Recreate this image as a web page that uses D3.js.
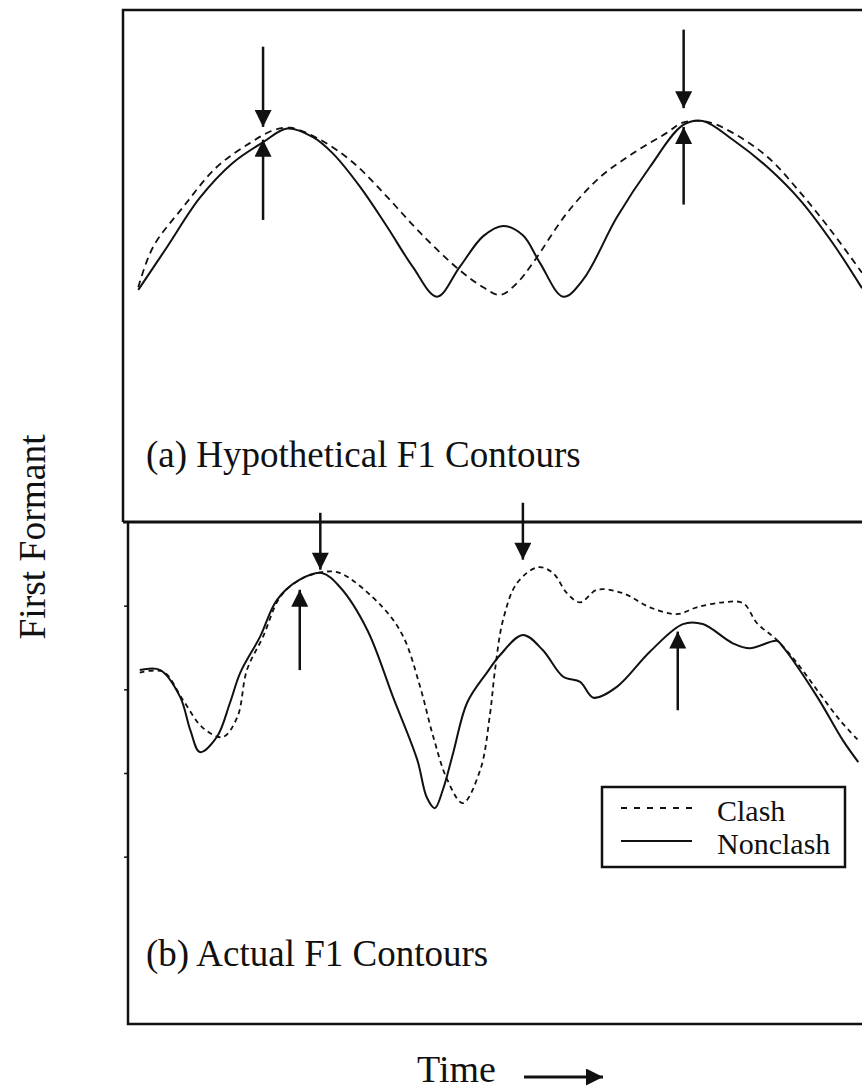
<!DOCTYPE html>
<html>
<head>
<meta charset="utf-8">
<script src="https://cdn.jsdelivr.net/npm/d3@7"></script>
<style>
  body { margin: 0; background: #fff; }
  text { font-family: "Liberation Serif", "Times New Roman", serif; fill: #111; }
</style>
</head>
<body>
<div id="chart"></div>
<script>
// time in arbitrary units (0-100), F1 in Hz

// (a) hypothetical contours
var hypoClashTime = [1.4, 3.4, 7.5, 12.1, 16.6, 19.8, 22.1, 26.2, 30.7, 35.3, 39.8, 45.2, 48.4, 50.7, 53.0, 55.2, 59.8, 64.3, 68.8, 73.4, 75.6, 78.9, 82.4, 87.1, 91.6, 96.0, 100];
var hypoClashF1   = [575, 622, 669, 716, 744, 759, 762, 748, 721, 681, 639, 595, 575, 566, 580, 604, 662, 704, 732, 756, 768, 769, 756, 728, 686, 639, 592];
var hypoNonTime = [1.4, 5.3, 9.8, 14.3, 18.4, 21.7, 25.2, 27.9, 31.6, 35.3, 38.8, 42.1, 45.2, 48.4, 51.1, 53.8, 56.1, 59.3, 62.0, 66.6, 71.1, 75.6, 78.3, 82.4, 87.1, 91.6, 96.0, 100];
var hypoNonF1   = [572, 622, 680, 721, 745, 761, 751, 732, 693, 646, 599, 564, 599, 635, 647, 636, 604, 564, 584, 657, 716, 765, 770, 748, 716, 677, 627, 574];

// (b) actual contours
var actClashTime = [1.6, 4.8, 7.5, 10.2, 12.9, 14.9, 16.2, 18.4, 20.7, 23.4, 26.4, 28.9, 34.7, 37.5, 39.8, 41.6, 43.5, 45.6, 48.0, 49.3, 50.0, 51.1, 53.0, 55.9, 57.9, 59.8, 61.6, 63.9, 67.4, 71.1, 74.8, 77.5, 81.1, 83.8, 85.7, 88.4, 91.1, 93.9, 97.0, 99.5];
var actClashF1   = [720, 721, 687, 654, 643, 667, 723, 763, 810, 831, 840, 839, 798, 763, 703, 643, 592, 564, 604, 669, 723, 783, 827, 846, 839, 815, 804, 819, 815, 798, 790, 798, 804, 803, 779, 759, 732, 699, 663, 639];
var actNonTime = [1.6, 4.4, 7.1, 8.5, 9.8, 12.1, 13.9, 15.3, 18.0, 20.3, 23.4, 26.4, 28.9, 32.6, 36.1, 39.4, 40.7, 41.8, 42.9, 44.3, 46.2, 48.9, 50.7, 53.8, 56.5, 59.3, 61.6, 63.4, 66.6, 71.1, 75.6, 78.3, 82.4, 84.7, 88.4, 89.2, 93.9, 97.4, 99.5];
var actNonF1   = [723, 723, 691, 651, 625, 643, 684, 720, 763, 807, 831, 839, 822, 771, 691, 616, 571, 558, 580, 624, 684, 720, 741, 765, 747, 715, 709, 690, 703, 745, 778, 778, 755, 749, 758, 751, 691, 639, 613];

// arrows: time, start F1, tip F1
var arrowsA = [
  { t: 18.4, from: 857, to: 763 },
  { t: 18.4, from: 654, to: 748 },
  { t: 75.7, from: 877, to: 785 },
  { t: 75.7, from: 672, to: 763 }
];
var arrowsB = [
  { t: 26.2, from: 911, to: 843 },
  { t: 23.4, from: 723, to: 819 },
  { t: 53.8, from: 923, to: 855 },
  { t: 74.9, from: 675, to: 769 }
];

var f1Ticks = [500, 600, 700, 800];
var legendLabels = ['Clash', 'Nonclash'];
var panelLabels = ['(a) Hypothetical F1 Contours', '(b) Actual F1 Contours'];

var W = 862, H = 1092;

var svg = d3.select('#chart').append('svg')
  .attr('width', W).attr('height', H);
svg.append('rect').attr('width', W).attr('height', H).attr('fill', '#fff');

var x = d3.scaleLinear().domain([0, 100]).range([128, 862]);
var yA = d3.scaleLinear().domain([300, 900]).range([522, 10]);
var yB = d3.scaleLinear().domain([300, 900]).range([1024, 522]);

function zip(ts, vs) {
  return ts.map(function(t, i) { return { t: t, v: vs[i] }; });
}

// arrow head marker
var defs = svg.append('defs');
defs.append('marker')
  .attr('id', 'head')
  .attr('viewBox', '0 0 10 10')
  .attr('refX', 10).attr('refY', 5)
  .attr('markerUnits', 'userSpaceOnUse')
  .attr('markerWidth', 22).attr('markerHeight', 17)
  .attr('orient', 'auto')
  .append('path').attr('d', 'M0,0 L10,5 L0,10 Z').attr('fill', '#111');

// frames
var frameTop = yA.range()[1], frameSep = yA.range()[0], frameBot = yB.range()[0];
var frame = svg.append('g').attr('fill', 'none').attr('stroke', '#111');
frame.append('path')
  .attr('d', 'M862,' + frameTop + ' L123,' + frameTop + ' L123,' + frameSep)
  .attr('stroke-width', 2.5);
frame.append('path')
  .attr('d', 'M123,' + frameSep + ' L862,' + frameSep)
  .attr('stroke-width', 3);
frame.append('path')
  .attr('d', 'M128,' + frameSep + ' L128,' + frameBot + ' L862,' + frameBot)
  .attr('stroke-width', 2.5);

// left ticks on panel b
var axB = svg.append('g')
  .attr('transform', 'translate(128,0)')
  .call(d3.axisLeft(yB).tickValues(f1Ticks).tickSize(4).tickFormat(''));
axB.select('.domain').remove();
axB.selectAll('line').attr('stroke', '#111').attr('stroke-width', 1.5);

function drawPanel(yScale, clash, non, dash, arrows) {
  var line = d3.line()
    .x(function(d) { return x(d.t); })
    .y(function(d) { return yScale(d.v); })
    .curve(d3.curveCatmullRom.alpha(0.5));
  var g = svg.append('g');
  g.append('path').datum(clash).attr('d', line)
    .attr('fill', 'none').attr('stroke', '#111')
    .attr('stroke-width', 1.8).attr('stroke-dasharray', dash);
  g.append('path').datum(non).attr('d', line)
    .attr('fill', 'none').attr('stroke', '#111')
    .attr('stroke-width', 2);
  g.selectAll('.arrow').data(arrows).enter()
    .append('line').attr('class', 'arrow')
    .attr('x1', function(d) { return x(d.t); })
    .attr('x2', function(d) { return x(d.t); })
    .attr('y1', function(d) { return yScale(d.from); })
    .attr('y2', function(d) { return yScale(d.to); })
    .attr('stroke', '#111').attr('stroke-width', 2.5)
    .attr('marker-end', 'url(#head)');
}

drawPanel(yA, zip(hypoClashTime, hypoClashF1), zip(hypoNonTime, hypoNonF1), '7,5', arrowsA);
drawPanel(yB, zip(actClashTime, actClashF1), zip(actNonTime, actNonF1), '5,4', arrowsB);

// panel labels
svg.selectAll('.plabel').data(panelLabels).enter()
  .append('text').attr('class', 'plabel')
  .attr('x', 146)
  .attr('y', function(d, i) { return i === 0 ? 467 : 966; })
  .attr('font-size', 37)
  .text(function(d) { return d; });

// legend
var lg = svg.append('g');
lg.append('rect')
  .attr('x', 602).attr('y', 787).attr('width', 243).attr('height', 80)
  .attr('fill', '#fff').attr('stroke', '#111').attr('stroke-width', 2.5);
var items = lg.selectAll('.item').data(legendLabels).enter()
  .append('g').attr('class', 'item')
  .attr('transform', function(d, i) { return 'translate(0,' + (i * 33) + ')'; });
items.append('line')
  .attr('x1', 621).attr('x2', 692).attr('y1', 808).attr('y2', 808)
  .attr('stroke', '#111').attr('stroke-width', 2.2)
  .attr('stroke-dasharray', function(d, i) { return i === 0 ? '6,7' : null; });
items.append('text')
  .attr('x', 717).attr('y', 821)
  .attr('font-size', 30)
  .text(function(d) { return d; });

// axis titles
svg.append('text')
  .attr('transform', 'translate(45,537) rotate(-90)')
  .attr('text-anchor', 'middle')
  .attr('font-size', 37.5)
  .text('First Formant');
svg.append('text')
  .attr('x', 417).attr('y', 1082)
  .attr('font-size', 38)
  .text('Time');
svg.append('line')
  .attr('x1', 524).attr('x2', 603).attr('y1', 1077).attr('y2', 1077)
  .attr('stroke', '#111').attr('stroke-width', 3)
  .attr('marker-end', 'url(#head)');
</script>
</body>
</html>
